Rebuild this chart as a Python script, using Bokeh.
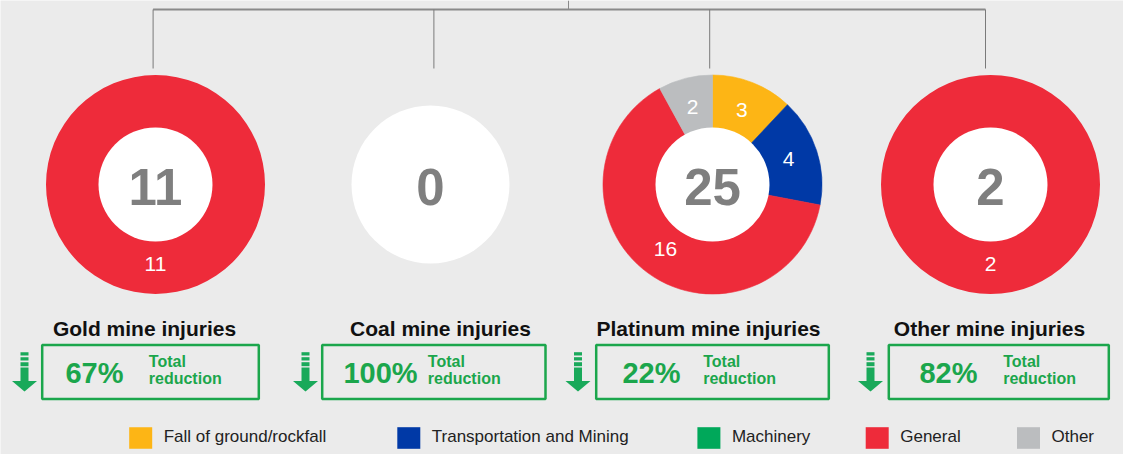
import numpy as np
from bokeh.plotting import figure
from bokeh.models import Range1d
from bokeh.core.properties import value
from bokeh.embed import file_html
from bokeh.resources import INLINE

# ---------------- data ----------------
mines = ["Gold", "Coal", "Platinum", "Other"]
titles = ["Gold mine injuries", "Coal mine injuries", "Platinum mine injuries", "Other mine injuries"]
categories = ["Fall of ground/rockfall", "Transportation and Mining", "Machinery", "General", "Other"]
cat_colors = ["#fdb515", "#0039a6", "#00a85a", "#ee2b3a", "#bbbdbf"]
gold_injuries = [0, 0, 0, 11, 0]
coal_injuries = [0, 0, 0, 0, 0]
platinum_injuries = [3, 4, 0, 16, 2]
other_injuries = [0, 0, 0, 2, 0]
reduction_pct = [67, 100, 22, 82]
reduction_label = ["Total", "reduction"]

# ---------------- layout (pixels, image coords from top) ----------------
W, H = 1123, 454
FONT = value("Liberation Sans")
GREEN = "#1ba64c"
ARROW_GREEN = "#19a95a"
GREY_TXT = "#7f7f7f"

donut_cx = [155, 430, 712, 990]
donut_cy = 184
R_OUT, R_IN, R_EMPTY, LBL_R = 109.5, 57, 79, 80
title_cx = [144, 440, 708, 989]
box_l = [41.7, 321.7, 595.7, 888.3]
box_r = [258.3, 545.0, 828.3, 1108.3]
box_t, box_b = 344.5, 398.5
pct_cx = [94, 380, 651, 948]
lbl_x = [148.3, 427.3, 702.7, 1002.7]
arrow_cx = [24, 305, 577.5, 870]
drop_x = [152.6, 433.4, 709.2, 985.0]
leg_left = [128.7, 396.8, 696.9, 865.2, 1016.5]
SHIFT = 0.38  # renderer baseline correction, in em


def Y(v):
    return H - v


def B(v, size):
    """y for an alphabetic baseline at image row v for a font of `size` px"""
    return H - (v - SHIFT * size)


p = figure(width=W, height=H, x_range=Range1d(0, W), y_range=Range1d(0, H),
           output_backend="svg", toolbar_location=None, min_border=0,
           background_fill_color="#ebebeb", border_fill_color="#ebebeb")
p.axis.visible = False
p.grid.visible = False
p.outline_line_color = None

# ---------------- connector lines ----------------
p.segment(x0=[drop_x[0]], y0=[Y(9)], x1=[drop_x[-1]], y1=[Y(9)], line_color="#8a8a8a", line_width=2)
p.segment(x0=[568], y0=[Y(0)], x1=[568], y1=[Y(9)], line_color="#8a8a8a", line_width=1)
p.segment(x0=drop_x, y0=[Y(9)] * 4, x1=drop_x, y1=[Y(68)] * 4, line_color="#7a7a7a", line_width=1)

# ---------------- donuts ----------------
series = [gold_injuries, coal_injuries, platinum_injuries, other_injuries]
wx, wy, ws, we, wc = [], [], [], [], []
anx, any_, anc = [], [], []
lx, ly, lt = [], [], []
hx, hy, hr = [], [], []
tx, ty, tt = [], [], []
LBL_SIZE = 21
NUM_SIZE = 51
for i, vals in enumerate(series):
    total = sum(vals)
    cx, cy = donut_cx[i], Y(donut_cy)
    hx.append(cx); hy.append(cy); hr.append(R_IN if total > 0 else R_EMPTY)
    tx.append(cx); ty.append(B(205.5, NUM_SIZE)); tt.append(str(total))
    if total == 0:
        continue
    cum = 0
    for v, col in zip(vals, cat_colors):
        if v == 0:
            continue
        f0, f1 = cum / total, (cum + v) / total
        cum += v
        if v == total:
            anx.append(cx); any_.append(cy); anc.append(col)
        else:
            wx.append(cx); wy.append(cy); wc.append(col)
            ws.append(np.pi / 2 - 2 * np.pi * f1)
            we.append(np.pi / 2 - 2 * np.pi * f0)
        mid = np.pi / 2 - 2 * np.pi * (f0 + f1) / 2
        lx.append(cx + LBL_R * np.cos(mid))
        ly.append(cy + LBL_R * np.sin(mid) - 0.358 * LBL_SIZE + SHIFT * LBL_SIZE)
        lt.append(str(v))

if anx:
    p.annulus(x=anx, y=any_, inner_radius=R_IN - 1, outer_radius=R_OUT,
              fill_color=anc, line_color=None)
if wx:
    p.annular_wedge(x=wx, y=wy, inner_radius=R_IN - 1, outer_radius=R_OUT,
                    start_angle=ws, end_angle=we, fill_color=wc, line_color=wc,
                    line_width=0.6, direction="anticlock")
p.circle(x=hx, y=hy, radius=hr, fill_color="white", line_color=None)

p.text(x=lx, y=ly, text=lt, text_font=FONT, text_font_size=f"{LBL_SIZE}px",
       text_color="white", text_align="center", text_baseline="alphabetic")
p.text(x=tx, y=ty, text=tt, text_font=FONT, text_font_size=f"{NUM_SIZE}px", text_font_style="bold",
       text_color=GREY_TXT, text_align="center", text_baseline="alphabetic")

# ---------------- titles ----------------
p.text(x=title_cx, y=[B(336, 21)] * 4, text=titles, text_font=FONT, text_font_size="21px",
       text_font_style="bold", text_color="#111111", text_align="center", text_baseline="alphabetic")

# ---------------- reduction boxes ----------------
p.quad(left=box_l, right=box_r, top=[Y(box_t)] * 4, bottom=[Y(box_b)] * 4,
       fill_color=None, line_color=GREEN, line_width=2.5)
p.text(x=pct_cx, y=[B(384, 29)] * 4, text=[f"{v}%" for v in reduction_pct], text_font=FONT,
       text_font_size="29px", text_font_style="bold", text_color=GREEN,
       text_align="center", text_baseline="alphabetic")
p.text(x=lbl_x, y=[B(367.5, 16)] * 4, text=[reduction_label[0]] * 4, text_font=FONT,
       text_font_size="16px", text_font_style="bold", text_color=GREEN,
       text_align="left", text_baseline="alphabetic")
p.text(x=lbl_x, y=[B(384, 16)] * 4, text=[reduction_label[1]] * 4, text_font=FONT,
       text_font_size="16px", text_font_style="bold", text_color=GREEN,
       text_align="left", text_baseline="alphabetic")

# ---------------- down arrows ----------------
stripes = [(351.7, 355.0), (356.7, 360.0), (361.7, 365.7), (367.0, 381.0)]
ql, qr, qt, qb = [], [], [], []
pxs, pys = [], []
for ax in arrow_cx:
    for t, b in stripes:
        ql.append(ax - 4); qr.append(ax + 4); qt.append(Y(t)); qb.append(Y(b))
    pxs.append([ax - 12.5, ax + 12.5, ax])
    pys.append([Y(380.5), Y(380.5), Y(391)])
p.quad(left=ql, right=qr, top=qt, bottom=qb, fill_color=ARROW_GREEN, line_color=None)
p.patches(xs=pxs, ys=pys, fill_color=ARROW_GREEN, line_color=None)

# ---------------- legend ----------------
p.quad(left=leg_left, right=[l + 23 for l in leg_left], top=[Y(426.7)] * 5, bottom=[Y(448.3)] * 5,
       fill_color=cat_colors, line_color=None)
p.text(x=[l + 34.5 for l in leg_left], y=[B(442, 17)] * 5, text=categories, text_font=FONT,
       text_font_size="17px", text_color="#222222", text_align="left", text_baseline="alphabetic")

open("out.html", "w").write(file_html(p, INLINE))
